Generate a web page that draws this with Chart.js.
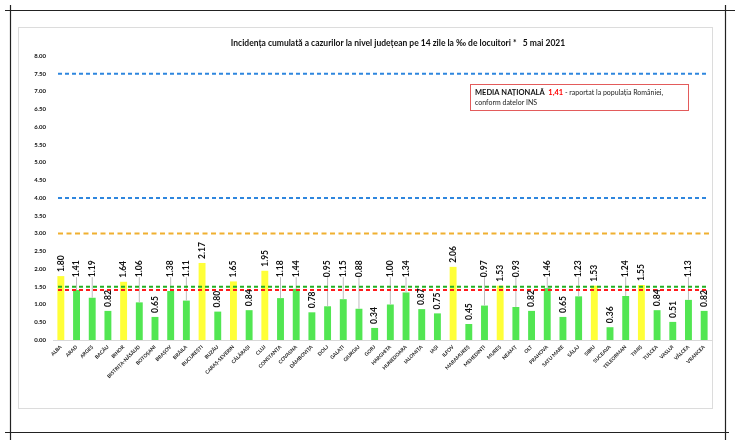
<!DOCTYPE html>
<html>
<head>
<meta charset="utf-8">
<script src="https://cdn.jsdelivr.net/npm/chart.js@4"></script>
<style>
  html, body { margin: 0; padding: 0; background: #fff; }
</style>
</head>
<body>
<canvas id="grafic" width="735" height="444"></canvas>
<script>
const judete = ["ALBA", "ARAD", "ARGEȘ", "BACĂU", "BIHOR", "BISTRIȚA-NĂSĂUD", "BOTOȘANI", "BRAȘOV", "BRĂILA",
    "BUCUREȘTI", "BUZĂU", "CARAȘ-SEVERIN", "CĂLĂRAȘI", "CLUJ", "CONSTANȚA", "COVASNA", "DÂMBOVIȚA", "DOLJ",
    "GALAȚI", "GIURGIU", "GORJ", "HARGHITA", "HUNEDOARA", "IALOMIȚA", "IAȘI", "ILFOV", "MARAMUREȘ", "MEHEDINȚI",
    "MUREȘ", "NEAMȚ", "OLT", "PRAHOVA", "SATU MARE", "SĂLAJ", "SIBIU", "SUCEAVA", "TELEORMAN", "TIMIȘ", "TULCEA",
    "VASLUI", "VÂLCEA", "VRANCEA"];
const incidenta = [1.80, 1.41, 1.19, 0.82, 1.64, 1.06, 0.65, 1.38, 1.11, 2.17, 0.80, 1.65, 0.84, 1.95, 1.18,
    1.44, 0.78, 0.95, 1.15, 0.88, 0.34, 1.00, 1.34, 0.87, 0.75, 2.06, 0.45, 0.97, 1.53, 0.93, 0.82, 1.46, 0.65,
    1.23, 1.53, 0.36, 1.24, 1.55, 0.84, 0.51, 1.13, 0.82];
const praguri = [7.5, 4, 3, 1.5];
const mediaNationala = 1.41;

const titlu = "Incidența cumulată a cazurilor la nivel județean pe 14 zile la ‰ de locuitori *   5 mai 2021";
const FONT = "Lato, 'Open Sans', sans-serif";

// culoarea barei depinde de pragul de 1.5
const culoriBare = incidenta.map(v => v > 1.5 ? '#ffff38' : '#52e652');

function stilPrag(v) {
    if (v >= 4) return { color: '#2e86de', dash: [4, 3] };
    if (v >= 3) return { color: '#f0b030', dash: [5, 3.5] };
    return { color: '#22b022', dash: [4, 3] };
}

const cadru = {
    id: 'cadru',
    beforeDraw(chart) {
        const c = chart.ctx;
        c.save();
        c.fillStyle = '#fff';
        c.fillRect(0, 0, chart.width, chart.height);
        c.strokeStyle = '#dcdcdc';
        c.lineWidth = 1;
        c.strokeRect(18.5, 27.5, 694, 381);
        c.strokeStyle = '#222';
        c.lineWidth = 1.2;
        c.beginPath();
        c.moveTo(5, 10.5); c.lineTo(735, 10.5);
        c.moveTo(5, 432.5); c.lineTo(729, 432.5);
        c.moveTo(10.5, 5); c.lineTo(10.5, 440);
        c.moveTo(725.5, 5); c.lineTo(725.5, 440);
        c.stroke();
        c.restore();
    },
    afterDatasetsDraw(chart) {
        const c = chart.ctx;
        const y = chart.scales.y;
        const area = chart.chartArea;
        const meta = chart.getDatasetMeta(0);
        const yMedie = y.getPixelForValue(mediaNationala);
        const ridicat = y.getPixelForValue(1.77);

        c.save();
        // etichetele care s-ar suprapune peste liniile nationale sunt ridicate deasupra lor
        const etichete = meta.data.map((bar, i) => {
            const v = incidenta[i];
            const lift = v >= 0.875 && v < 1.5;
            return { x: bar.x, top: bar.y, jos: lift ? ridicat : bar.y - 4, lift };
        });

        c.strokeStyle = '#bdbdbd';
        c.lineWidth = 1;
        etichete.forEach(e => {
            if (!e.lift) return;
            c.beginPath();
            c.moveTo(e.x, e.top);
            c.lineTo(e.x, e.jos);
            c.stroke();
        });

        c.lineWidth = 2;
        praguri.forEach(v => {
            const s = stilPrag(v);
            const py = y.getPixelForValue(v);
            c.strokeStyle = s.color;
            c.setLineDash(s.dash);
            c.beginPath();
            c.moveTo(area.left + 5, py);
            c.lineTo(area.right - 3, py);
            c.stroke();
        });
        c.strokeStyle = '#ff1a1a';
        c.setLineDash([4, 3]);
        c.beginPath();
        c.moveTo(area.left + 5, yMedie);
        c.lineTo(area.right - 3, yMedie);
        c.stroke();
        c.setLineDash([]);

        c.fillStyle = '#111';
        c.font = 'bold 8.5px ' + FONT;
        c.textAlign = 'left';
        c.textBaseline = 'middle';
        etichete.forEach((e, i) => {
            c.save();
            c.translate(e.x, e.jos);
            c.rotate(-Math.PI / 2);
            c.fillText(incidenta[i].toFixed(2), 0, 0);
            c.restore();
        });
        c.restore();
    },
    afterDraw(chart) {
        const c = chart.ctx;
        c.save();
        c.fillStyle = '#111';
        c.font = 'bold 8.5px ' + FONT;
        c.textAlign = 'center';
        c.textBaseline = 'middle';
        c.fillText(titlu, 398, 43);

        // caseta media nationala
        c.strokeStyle = '#e35b5b';
        c.lineWidth = 1;
        c.strokeRect(470.5, 84.5, 218, 26);
        c.textAlign = 'left';
        let px = 475;
        const py = 92.5;
        c.font = 'bold 7.5px ' + FONT;
        c.fillStyle = '#111';
        c.fillText('MEDIA NAȚIONALĂ', px, py);
        px += c.measureText('MEDIA NAȚIONALĂ  ').width;
        c.fillStyle = '#ff0000';
        c.fillText(mediaNationala.toFixed(2).replace('.', ','), px, py);
        px += c.measureText('1,41 ').width;
        c.fillStyle = '#222';
        c.font = '7px ' + FONT;
        c.fillText('- raportat la populația României,', px, py);
        c.fillText('conform datelor INS', 475, 102.5);
        c.restore();
    }
};

new Chart(document.getElementById('grafic'), {
    type: 'bar',
    data: {
        labels: judete,
        datasets: [{
            data: incidenta,
            backgroundColor: culoriBare,
            borderWidth: 0,
            categoryPercentage: 1,
            barPercentage: 0.44
        }]
    },
    options: {
        responsive: false,
        animation: false,
        events: [],
        layout: { padding: { left: 0, right: 23, top: 56, bottom: 0 } },
        plugins: {
            legend: { display: false },
            tooltip: { enabled: false },
            title: { display: false }
        },
        scales: {
            x: {
                grid: { display: false, drawTicks: false },
                border: { display: true, color: '#d9d9d9' },
                ticks: {
                    autoSkip: false,
                    minRotation: 45,
                    maxRotation: 45,
                    padding: 4,
                    color: '#222',
                    font: { family: FONT, size: 5, weight: 'bold' }
                },
                afterFit(scale) { scale.height = 104; }
            },
            y: {
                min: 0,
                max: 8,
                grid: { display: false, drawTicks: false },
                border: { display: false },
                ticks: {
                    stepSize: 0.25,
                    padding: 7,
                    color: '#111',
                    font: { family: FONT, size: 6, weight: 'bold' },
                    callback: v => v.toFixed(2)
                },
                afterFit(scale) { scale.width = 53; }
            }
        }
    },
    plugins: [cadru]
});
</script>
</body>
</html>
